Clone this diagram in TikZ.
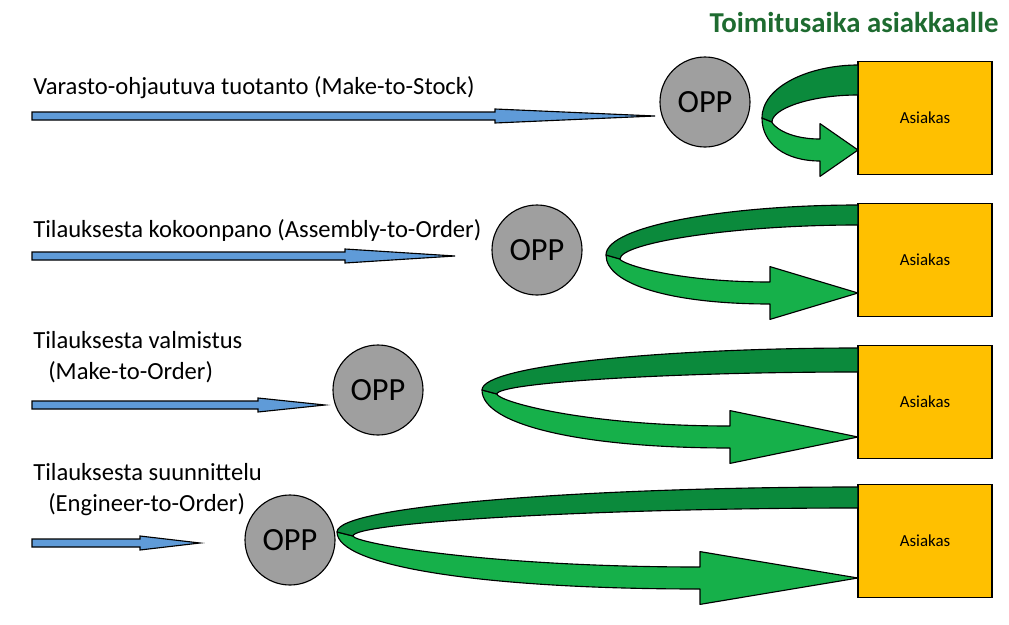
\documentclass[tikz,border=0pt]{standalone}
\usepackage{fontspec}
\setmainfont{Carlito}
\definecolor{dkg}{HTML}{0B8A3C}
\definecolor{ltg}{HTML}{16B04A}
\definecolor{blu}{HTML}{5F9BD8}
\definecolor{gold}{HTML}{FFC000}
\definecolor{ttl}{HTML}{1E6B30}
\tikzset{
 opp/.style={circle,draw=black,thick,fill=gray!75,minimum size=90*0.025cm,inner sep=0pt,font=\fontsize{23}{23}\selectfont},
 box/.style={draw=black,thick,fill=gold,minimum width=134*0.025cm,minimum height=113*0.025cm,font=\fontsize{12}{13}\selectfont},
 lbl/.style={anchor=west,inner sep=0pt,font=\fontsize{17.5}{18}\selectfont,align=left},
 rib/.style={draw=black,thick,line join=round}
}
\newcommand{\bluarrow}[3]{% y, shaft end, tip
 \fill[blu,draw=black,thick] (32,#1-4)--(#2,#1-4)--(#2,#1-7)--(#3,#1)--(#2,#1+7)--(#2,#1+4)--(32,#1+4)--cycle;}
\newcommand{\ribbon}[9]{% X y1 y2 xL yM xH yT w f
 \fill[rib,fill=ltg] (#4,#5) .. controls (#4,{#5+0.6*(#7+#8-#5)}) and ({#4+0.4*(#6-#4)},#7+#8) .. (#6,#7+#8)
   -- (#6,{#7+2.4*#8}) -- (#1,#7) -- (#6,{#7-2.4*#8}) -- (#6,#7-#8)
   .. controls ({#4+0.4*(#6-#4)},#7-#8) and (#4+#9,{#5+0.3*(#7-#8-#5)}) .. (#4+#9,#5+4) -- cycle;
 \fill[rib,fill=dkg] (#1,#2) .. controls ({#4+0.5*(#1-#4)},#2) and (#4,{#5-0.6*(#5-#2)}) .. (#4,#5)
   -- (#4+#9,#5+4) .. controls (#4+#9,{#5-0.4*(#5-#3)}) and ({#4+0.5*(#1-#4)},#3) .. (#1,#3) -- cycle;}
\begin{document}
\begin{tikzpicture}[x=0.025cm,y=-0.025cm]
\useasboundingbox (0,0) rectangle (1009,625);
\node[font=\bfseries\fontsize{20.5}{21}\selectfont,text=ttl] (title) at (854,22) {Toimitusaika asiakkaalle};
% row 1
\node[lbl] (t1) at (33,88) {Varasto-ohjautuva tuotanto (Make-to-Stock)};
\bluarrow{116}{495}{655}
\node[box] (as1) at (925,118) {Asiakas};
\ribbon{858}{65}{95}{762}{118}{820}{150}{11}{10}
\node[opp] (o1) at (705,102) {OPP};
% row 2
\node[lbl] (t2) at (33,230) {Tilauksesta kokoonpano (Assembly-to-Order)};
\bluarrow{256}{345}{455}
\node[box] (as2) at (925,260) {Asiakas};
\ribbon{858}{205}{225}{606}{255}{770}{293}{11}{14}
\node[opp] (o2) at (537,250) {OPP};
% row 3
\node[lbl] (t3) at (33,340) {Tilauksesta valmistus};
\node[lbl] (t3b) at (48,372) {(Make-to-Order)};
\bluarrow{405}{258}{325}
\node[box] (as3) at (925,402) {Asiakas};
\ribbon{858}{348}{372}{482}{390}{730}{437}{11}{15}
\node[opp] (o3) at (378,390) {OPP};
% row 4
\node[lbl] (t4) at (33,472) {Tilauksesta suunnittelu};
\node[lbl] (t4b) at (48,505) {(Engineer-to-Order)};
\bluarrow{543}{140}{200}
\node[box] (as4) at (925,541) {Asiakas};
\ribbon{858}{487}{508}{337}{532}{700}{578}{11}{16}
\node[opp] (o4) at (290,540) {OPP};
\end{tikzpicture}
\end{document}
